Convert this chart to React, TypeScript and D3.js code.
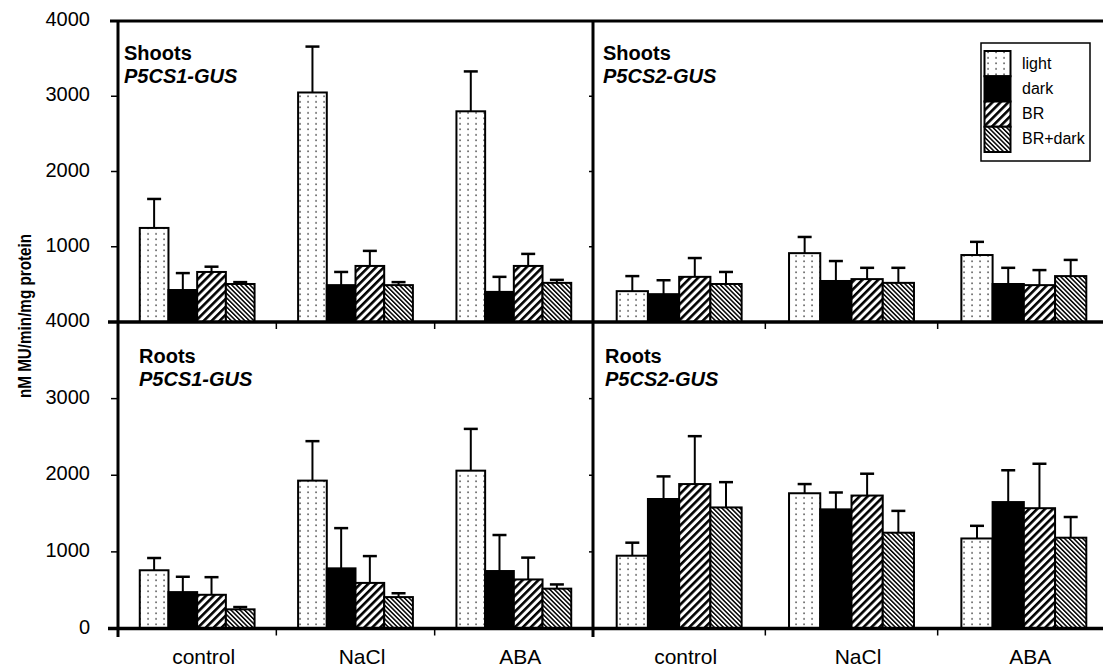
import * as d3 from "d3"

const categories = ["control", "NaCl", "ABA"]
const seriesNames = ["light", "dark", "BR", "BR+dark"]

// values per category, in series order: light, dark, BR, BR+dark
const shootsP5CS1Mean = [[1250, 425, 665, 505], [3050, 490, 745, 490], [2800, 400, 745, 520]]
const shootsP5CS1Err = [[385, 225, 70, 25], [610, 175, 200, 40], [530, 200, 160, 40]]
const shootsP5CS2Mean = [[410, 370, 600, 505], [915, 545, 570, 520], [890, 505, 490, 610]]
const shootsP5CS2Err = [[200, 185, 250, 160], [215, 265, 150, 200], [175, 215, 200, 215]]
const rootsP5CS1Mean = [[760, 475, 440, 250], [1930, 785, 595, 410], [2060, 750, 640, 520]]
const rootsP5CS1Err = [[160, 200, 230, 30], [515, 525, 350, 50], [545, 470, 285, 55]]
const rootsP5CS2Mean = [[950, 1690, 1885, 1580], [1765, 1555, 1735, 1250], [1175, 1650, 1570, 1185]]
const rootsP5CS2Err = [[170, 295, 625, 330], [120, 220, 285, 285], [165, 415, 580, 270]]

const topTicks = [1000, 2000, 3000, 4000]
const bottomTicks = [0, 1000, 2000, 3000, 4000]
const innerTicks = [1000, 2000, 3000]

const FONT = "'Liberation Sans', Arial, Helvetica, sans-serif"
const fills = ["url(#dots)", "#000", "url(#hatchUp)", "url(#hatchDown)"]

// frame positions
const xLeft = 118
const xMid = 593
const xRight = 1110
const yTop = 21
const yMid = 322
const yBot = 628.5

const panels = [
  { title: "Shoots", gene: "P5CS1-GUS", mean: shootsP5CS1Mean, err: shootsP5CS1Err, x0: xLeft, x1: xMid, y0: yTop, y1: yMid, tx: 124, ty: 60 },
  { title: "Shoots", gene: "P5CS2-GUS", mean: shootsP5CS2Mean, err: shootsP5CS2Err, x0: xMid, x1: xRight, y0: yTop, y1: yMid, tx: 603, ty: 60 },
  { title: "Roots", gene: "P5CS1-GUS", mean: rootsP5CS1Mean, err: rootsP5CS1Err, x0: xLeft, x1: xMid, y0: yMid, y1: yBot, tx: 139, ty: 363 },
  { title: "Roots", gene: "P5CS2-GUS", mean: rootsP5CS2Mean, err: rootsP5CS2Err, x0: xMid, x1: xRight, y0: yMid, y1: yBot, tx: 605, ty: 363 },
]

function Panel({ p, showCats }: { p: (typeof panels)[number]; showCats: boolean }) {
  const x = d3.scaleBand().domain(categories).range([p.x0, p.x1]).paddingInner(0.275).paddingOuter(0.1375)
  const xs = d3.scaleBand().domain(seriesNames).range([0, x.bandwidth()])
  const y = d3.scaleLinear().domain([0, 4000]).range([p.y1, p.y0])
  const step = x.step()

  return (
    <g>
      {categories.map((c, ci) =>
        seriesNames.map((s, si) => {
          const m = p.mean[ci][si]
          const bx = (x(c) as number) + (xs(s) as number)
          return (
            <rect key={c + s} x={bx} y={y(m)} width={xs.bandwidth()} height={p.y1 - y(m)}
              fill={fills[si]} stroke="#000" strokeWidth={2} />
          )
        })
      )}
      {categories.map((c, ci) =>
        seriesNames.map((s, si) => {
          const m = p.mean[ci][si]
          const e = p.err[ci][si]
          const cx = (x(c) as number) + (xs(s) as number) + xs.bandwidth() / 2
          return (
            <g key={"e" + c + s} stroke="#000" strokeWidth={2}>
              <line x1={cx} x2={cx} y1={y(m)} y2={y(m + e)} />
              <line x1={cx - 7} x2={cx + 7} y1={y(m + e)} y2={y(m + e)} strokeWidth={2.5} />
            </g>
          )
        })
      )}
      {/* category boundary ticks */}
      {[1, 2].map((i) => (
        <line key={"ct" + i} x1={p.x0 + i * step} x2={p.x0 + i * step} y1={p.y1} y2={p.y1 + 7} stroke="#000" strokeWidth={1.5} />
      ))}
      {showCats &&
        categories.map((c) => (
          <text key={"cl" + c} x={(x(c) as number) + x.bandwidth() / 2 + 6.5} y={664} fontSize={21}
            textAnchor="middle" fontFamily={FONT}>
            {c}
          </text>
        ))}
      <text x={p.tx} y={p.ty} fontSize={20} fontWeight="bold" fontFamily={FONT}>{p.title}</text>
      <text x={p.tx} y={p.ty + 23} fontSize={20} fontWeight="bold" fontStyle="italic" fontFamily={FONT}>{p.gene}</text>
    </g>
  )
}

export default function App() {
  const yT = d3.scaleLinear().domain([0, 4000]).range([yMid, yTop])
  const yB = d3.scaleLinear().domain([0, 4000]).range([yBot, yMid])

  return (
    <svg width={1103} height={671} style={{ position: "absolute", left: 0, top: 0, background: "#fff" }}>
      <defs>
        <pattern id="dots" patternUnits="userSpaceOnUse" width={8} height={5.5}>
          <rect width={8} height={5.5} fill="#fff" />
          <rect x={3.4} y={2.2} width={1.3} height={1.3} fill="#000" />
        </pattern>
        <pattern id="hatchUp" patternUnits="userSpaceOnUse" width={5.6} height={10} patternTransform="rotate(45)">
          <rect width={5.6} height={10} fill="#fff" />
          <rect width={2.6} height={10} fill="#000" />
        </pattern>
        <pattern id="hatchDown" patternUnits="userSpaceOnUse" width={3.2} height={10} patternTransform="rotate(-45)">
          <rect width={3.2} height={10} fill="#fff" />
          <rect width={1.5} height={10} fill="#000" />
        </pattern>
      </defs>

      {panels.map((p, i) => (
        <Panel key={i} p={p} showCats={i >= 2} />
      ))}

      {/* frame */}
      <g stroke="#000" fill="none">
        <line x1={110} x2={1103} y1={yTop} y2={yTop} strokeWidth={3} />
        <line x1={108} x2={1103} y1={yMid} y2={yMid} strokeWidth={3.5} />
        <line x1={108} x2={1103} y1={yBot} y2={yBot} strokeWidth={3.5} />
        <line x1={xLeft} x2={xLeft} y1={yTop} y2={637} strokeWidth={3} />
        <line x1={xMid} x2={xMid} y1={yTop} y2={637} strokeWidth={3} />
      </g>

      {/* y ticks */}
      <g stroke="#000" strokeWidth={1.5}>
        {topTicks.map((v) => (
          <line key={"tt" + v} x1={111} x2={xLeft} y1={yT(v)} y2={yT(v)} />
        ))}
        {bottomTicks.map((v) => (
          <line key={"bt" + v} x1={111} x2={xLeft} y1={yB(v)} y2={yB(v)} />
        ))}
        {innerTicks.map((v) => (
          <line key={"it" + v} x1={xMid - 4} x2={xMid} y1={yT(v)} y2={yT(v)} />
        ))}
        {innerTicks.map((v) => (
          <line key={"ib" + v} x1={xMid - 4} x2={xMid} y1={yB(v)} y2={yB(v)} />
        ))}
      </g>
      <g fontFamily={FONT} fontSize={20} textAnchor="end">
        {topTicks.map((v) => (
          <text key={"tl" + v} x={90} y={yT(v) - 2} dominantBaseline="central">{v}</text>
        ))}
        {bottomTicks.map((v) => (
          <text key={"bl" + v} x={90} y={yB(v) - 2} dominantBaseline="central">{v}</text>
        ))}
      </g>

      <text transform="translate(25,316) rotate(-90)" textAnchor="middle" dominantBaseline="central"
        fontFamily={FONT} fontSize={17.5} fontWeight="bold" textLength={164} lengthAdjust="spacingAndGlyphs">
        nM MU/min/mg protein
      </text>

      {/* legend */}
      <rect x={981} y={43} width={109} height={118} fill="#fff" stroke="#000" strokeWidth={1.5} />
      {seriesNames.map((s, i) => (
        <g key={"lg" + s}>
          <rect x={984.5} y={51 + i * 25.25} width={26} height={25.25} fill={fills[i]} stroke="#000" strokeWidth={2} />
          <text x={1022} y={63 + i * 25} fontSize={16} fontFamily={FONT} dominantBaseline="central">{s}</text>
        </g>
      ))}
    </svg>
  )
}
